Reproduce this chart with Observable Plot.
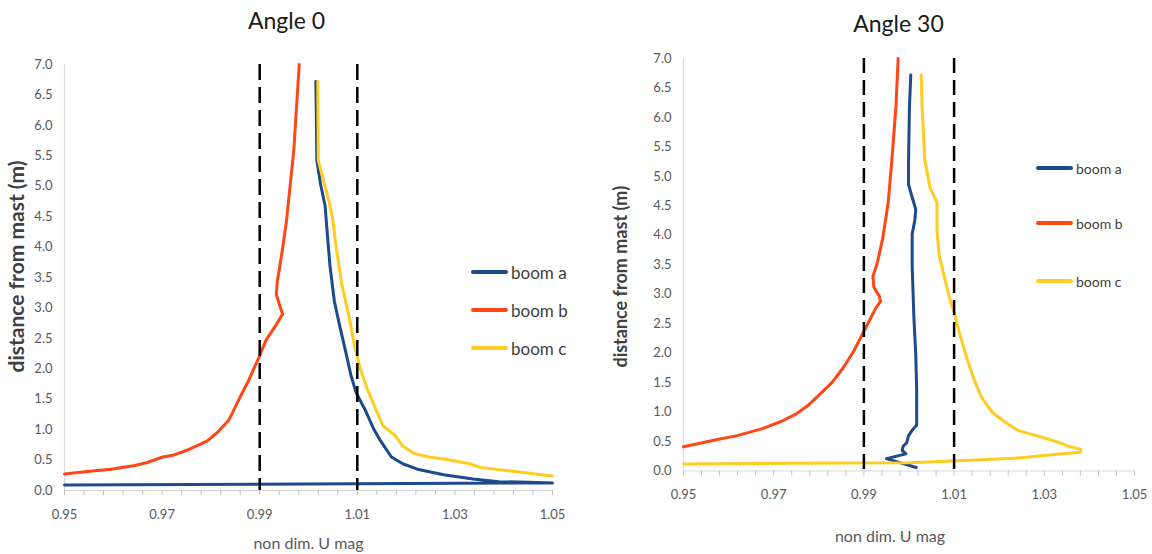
<!DOCTYPE html>
<html>
<head>
<meta charset="utf-8">
<script src="https://cdn.jsdelivr.net/npm/d3@7"></script>
<script src="https://cdn.jsdelivr.net/npm/@observablehq/plot@0.6"></script>
<style>
  html, body { margin: 0; padding: 0; background: #fff; }
  #root { position: relative; width: 1152px; height: 554px; overflow: hidden; font-family: Lato, "Open Sans", sans-serif; }
  .panel { position: absolute; top: 0; }
  .legend-item { position: absolute; display: flex; align-items: center; height: 20px; color: #404040; white-space: nowrap; }
  .legend-item .bar { display: inline-block; height: 4px; border-radius: 2px; }
</style>
</head>
<body>
<div id="root"></div>
<script>
// ---------- data ----------
const titles = ["Angle 0", "Angle 30"];
const xTitle = "non dim. U mag";
const yTitle = "distance from mast (m)";
const seriesNames = ["boom a", "boom b", "boom c"];
const seriesColors = ["#1c4a8a", "#ff4716", "#ffcc22"];
const xTickValues = [0.95, 0.97, 0.99, 1.01, 1.03, 1.05];
const yTickValues = [0, 0.5, 1, 1.5, 2, 2.5, 3, 3.5, 4, 4.5, 5, 5.5, 6, 6.5, 7];
const refLines = [0.99, 1.01];

// Angle 0
const a0_u = [0.95, 1.05, 1.045, 1.039, 1.0337, 1.0277, 1.0223, 1.0193, 1.0170, 1.0148, 1.0133, 1.0117, 1.0098, 1.0087, 1.0076, 1.0064, 1.0053, 1.0044, 1.0038, 1.0034, 1.0025, 1.0017, 1.0016, 1.0015];
const a0_d = [0.09, 0.125, 0.135, 0.145, 0.19, 0.26, 0.35, 0.44, 0.55, 0.81, 1.02, 1.31, 1.60, 1.89, 2.29, 2.70, 3.11, 3.69, 4.27, 4.68, 5.02, 5.43, 6.2, 6.72];
const b0_u = [0.95, 0.9557, 0.9595, 0.9644, 0.967, 0.9701, 0.9723, 0.9754, 0.9792, 0.9814, 0.9837, 0.986, 0.9875, 0.9898, 0.9913, 0.9932, 0.9947, 0.9943, 0.9934, 0.9936, 0.9947, 0.9955, 0.997, 0.9981];
const b0_d = [0.27, 0.32, 0.35, 0.41, 0.46, 0.55, 0.58, 0.67, 0.81, 0.96, 1.16, 1.54, 1.77, 2.18, 2.47, 2.70, 2.90, 2.99, 3.22, 3.43, 3.98, 4.44, 5.6, 7.0];
const c0_u = [1.05, 1.0413, 1.0352, 1.033, 1.0284, 1.0246, 1.0216, 1.0193, 1.0178, 1.0152, 1.0136, 1.0121, 1.0106, 1.0095, 1.0084, 1.0068, 1.0057, 1.005, 1.0042, 1.0033, 1.002, 1.0019];
const c0_d = [0.24, 0.32, 0.38, 0.44, 0.51, 0.55, 0.61, 0.73, 0.90, 1.07, 1.37, 1.66, 2.0, 2.35, 2.82, 3.40, 3.98, 4.44, 4.76, 5.02, 5.43, 6.72];

// Angle 30
const a30_u = [1.0016, 0.995, 0.9993, 0.9985, 0.9987, 0.9995, 0.9999, 1.0007, 1.0017, 1.0017, 1.0017, 1.0015, 1.0011, 1.0007, 1.0007, 1.0013, 1.0015, 1.0008, 0.9999, 0.9999, 1.0001, 1.0004];
const a30_d = [0.06, 0.21, 0.29, 0.35, 0.42, 0.48, 0.60, 0.69, 0.78, 1.0, 1.38, 1.98, 2.58, 3.48, 4.02, 4.26, 4.44, 4.62, 4.86, 5.28, 6.18, 6.72];
const b30_u = [0.95, 0.9578, 0.9619, 0.9675, 0.9716, 0.9748, 0.9776, 0.9805, 0.9829, 0.9853, 0.9878, 0.9898, 0.991, 0.9926, 0.9937, 0.9934, 0.9922, 0.992, 0.993, 0.9942, 0.9954, 0.9962, 0.9971, 0.9976];
const b30_d = [0.41, 0.54, 0.60, 0.72, 0.84, 0.96, 1.11, 1.32, 1.50, 1.74, 2.04, 2.34, 2.52, 2.76, 2.88, 2.97, 3.12, 3.30, 3.54, 3.96, 4.56, 5.28, 6.18, 7.0];
const c30_u = [0.95, 0.9756, 0.9999, 1.0096, 1.016, 1.0241, 1.0322, 1.0381, 1.0381, 1.0358, 1.0322, 1.0282, 1.0241, 1.0217, 1.0185, 1.016, 1.0144, 1.0128, 1.0112, 1.01, 1.0092, 1.008, 1.0067, 1.0062, 1.0062, 1.0047, 1.0035, 1.0029, 1.0027];
const c30_d = [0.12, 0.13, 0.14, 0.17, 0.19, 0.22, 0.28, 0.32, 0.37, 0.41, 0.51, 0.60, 0.69, 0.81, 0.99, 1.26, 1.56, 1.92, 2.34, 2.70, 2.88, 3.24, 3.66, 4.08, 4.56, 4.80, 5.28, 6.18, 6.72];

// ---------- build ----------
function rows(u, d, s) { return u.map((v, i) => ({u: v, d: d[i], s})); }

const panelCfg = [
  {
    left: 0, width: 580, height: 554, mL: 64, mR: 28, mT: 64, mB: 64,
    series: [rows(a0_u, a0_d, seriesNames[0]), rows(b0_u, b0_d, seriesNames[1]), rows(c0_u, c0_d, seriesNames[2])],
    title: titles[0], titleDx: -22, titleDy: -43,
    xTitleDx: 0, xTitleDy: 53, yTitleDx: -47, yTitleDy: -11, yTitleSize: 21,
    dash: "16,7", legendX: 471, legendY: [272, 310, 348], legendBar: 37, legendFont: 17
  },
  {
    left: 580, width: 572, height: 554, mL: 103, mR: 18, mT: 58, mB: 83.5,
    series: [rows(a30_u, a30_d, seriesNames[0]), rows(b30_u, b30_d, seriesNames[1]), rows(c30_u, c30_d, seriesNames[2])],
    title: titles[1], titleDx: -10.5, titleDy: -34,
    xTitleDx: -19, xTitleDy: 65.5, yTitleDx: -62, yTitleDy: 12, yTitleSize: 18,
    dash: "15,7", legendX: 1036, legendY: [168, 223, 281], legendBar: 37, legendFont: 14
  }
];

const minorTicks = d3.range(0, 26).map(i => 0.95 + i * 0.004);
const root = document.getElementById("root");

panelCfg.forEach(cfg => {
  const marks = [
    Plot.ruleX([0.95], {y1: 0, y2: 7, stroke: "#d9d9d9", strokeWidth: 1.2}),
    Plot.ruleY([0], {stroke: "#d9d9d9", strokeWidth: 1.2}),
    Plot.axisX({ticks: minorTicks, tickSize: 5, tickFormat: () => "", stroke: "#bfbfbf", label: null}),
    Plot.axisX({ticks: xTickValues, tickSize: 0, tickPadding: 19, tickFormat: d3.format(".2f"), label: null, fill: "#595959", fontSize: 13}),
    Plot.axisY({ticks: yTickValues, tickSize: 0, tickPadding: 12, tickFormat: d3.format(".1f"), label: null, fill: "#595959", fontSize: 13}),
    ...cfg.series.map((data, i) => Plot.line(data, {x: "u", y: "d", stroke: seriesColors[i], strokeWidth: 3, strokeLinejoin: "round", strokeLinecap: "round"})),
    Plot.ruleX(refLines, {y1: 7, y2: 0, stroke: "#000", strokeWidth: 2.5, strokeDasharray: cfg.dash}),
    Plot.text([cfg.title], {text: d => d, frameAnchor: "top", dx: cfg.titleDx, dy: cfg.titleDy, lineAnchor: "middle", fontSize: 23, fill: "#1a1a1a"}),
    Plot.text([xTitle], {text: d => d, frameAnchor: "bottom", dx: cfg.xTitleDx, dy: cfg.xTitleDy, lineAnchor: "middle", fontSize: 16, fill: "#595959"}),
    Plot.text([yTitle], {text: d => d, frameAnchor: "left", dx: cfg.yTitleDx, dy: cfg.yTitleDy, rotate: -90, textAnchor: "middle", lineAnchor: "middle", fontSize: cfg.yTitleSize, fontWeight: "bold", fill: "#404040"})
  ];
  const chart = Plot.plot({
    width: cfg.width, height: cfg.height,
    marginLeft: cfg.mL, marginRight: cfg.mR, marginTop: cfg.mT, marginBottom: cfg.mB,
    x: {domain: [0.95, 1.05]},
    y: {domain: [0, 7]},
    style: {fontFamily: "Lato, 'Open Sans', sans-serif", background: "transparent", color: "#595959", overflow: "visible"},
    marks
  });
  const wrap = document.createElement("div");
  wrap.className = "panel";
  wrap.style.left = cfg.left + "px";
  wrap.appendChild(chart);
  root.appendChild(wrap);

  seriesNames.forEach((name, i) => {
    const item = document.createElement("div");
    item.className = "legend-item";
    item.style.left = cfg.legendX + "px";
    item.style.top = (cfg.legendY[i] - 10) + "px";
    item.style.fontSize = cfg.legendFont + "px";
    const bar = document.createElement("span");
    bar.className = "bar";
    bar.style.width = cfg.legendBar + "px";
    bar.style.background = seriesColors[i];
    const label = document.createElement("span");
    label.textContent = name;
    label.style.marginLeft = "3px";
    item.appendChild(bar);
    item.appendChild(label);
    root.appendChild(item);
  });
});
</script>
</body>
</html>
